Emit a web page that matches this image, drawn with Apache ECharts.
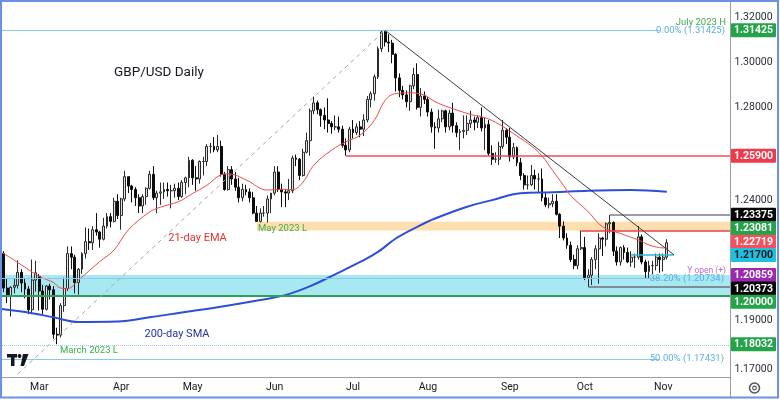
<!DOCTYPE html>
<html><head><meta charset="utf-8">
<script src="https://cdn.jsdelivr.net/npm/echarts@6/dist/echarts.min.js"></script>
<style>html,body{margin:0;padding:0;background:#fff}#c{width:780px;height:401px}</style>
</head><body><div id="c"></div>
<script>
// ---------- DATA ----------
const firstSlot = '2023-02-14';      // first weekday slot on the axis (empty)
const slotCount = 206;               // weekdays shown, incl. empty future slots
const monthNames = ['Jan','Feb','Mar','Apr','May','Jun','Jul','Aug','Sep','Oct','Nov','Dec'];
const yMin = 1.16711, yMax = 1.32705;
const tickValues = [1.32, 1.30, 1.28, 1.24, 1.19, 1.17];

// daily candles 2023-02-15 .. 2023-11-02, [open, high, low, close]
const candlesFeb = [
 [1.2175,1.2185,1.2015,1.2032],[1.2032,1.2070,1.1970,1.2000],[1.2000,1.2040,1.1915,1.2035],
 [1.2035,1.2070,1.2010,1.2043],[1.2043,1.2147,1.2030,1.2097],[1.2097,1.2110,1.2015,1.2053],[1.2053,1.2070,1.1990,1.2028],[1.2028,1.2040,1.1925,1.1943],
 [1.1943,1.2150,1.1925,1.2065],[1.2065,1.2145,1.2017,1.2095]];
const candlesMar = [
 [1.2080,1.2090,1.1940,1.2020],[1.2020,1.2045,1.1925,1.1945],[1.1945,1.2045,1.1940,1.2040],
 [1.2040,1.2050,1.1985,1.2025],[1.2025,1.2040,1.1825,1.1843],[1.1843,1.1870,1.1803,1.1840],[1.1840,1.1970,1.1830,1.1960],[1.1960,1.2075,1.1935,1.2030],
 [1.2030,1.2205,1.2020,1.2175],[1.2175,1.2205,1.2110,1.2160],[1.2160,1.2170,1.2010,1.2055],[1.2055,1.2115,1.2005,1.2110],[1.2110,1.2180,1.2090,1.2175],
 [1.2175,1.2285,1.2155,1.2225],[1.2225,1.2280,1.2190,1.2220],[1.2220,1.2290,1.2190,1.2275],[1.2275,1.2345,1.2250,1.2265],[1.2265,1.2270,1.2200,1.2235],
 [1.2235,1.2325,1.2230,1.2290],[1.2290,1.2345,1.2280,1.2330],[1.2330,1.2345,1.2285,1.2310],[1.2310,1.2410,1.2305,1.2395],[1.2395,1.2425,1.2320,1.2335]];
const candlesApr = [
 [1.2335,1.2410,1.2275,1.2405],[1.2405,1.2525,1.2395,1.2500],[1.2500,1.2500,1.2430,1.2460],[1.2460,1.2465,1.2390,1.2445],[1.2445,1.2455,1.2375,1.2410],
 [1.2410,1.2425,1.2345,1.2375],[1.2375,1.2425,1.2345,1.2415],[1.2415,1.2455,1.2380,1.2450],[1.2450,1.2525,1.2445,1.2510],[1.2510,1.2545,1.2400,1.2410],
 [1.2410,1.2440,1.2345,1.2430],[1.2430,1.2475,1.2380,1.2435],[1.2435,1.2475,1.2405,1.2445],[1.2445,1.2475,1.2415,1.2440],[1.2440,1.2465,1.2365,1.2440],
 [1.2440,1.2470,1.2410,1.2450],[1.2450,1.2475,1.2400,1.2415],[1.2415,1.2485,1.2410,1.2475],[1.2475,1.2500,1.2425,1.2495],[1.2495,1.2585,1.2455,1.2570]];
const candlesMay = [
 [1.2570,1.2575,1.2465,1.2495],[1.2495,1.2545,1.2440,1.2490],[1.2490,1.2570,1.2470,1.2565],[1.2565,1.2585,1.2505,1.2565],[1.2565,1.2640,1.2545,1.2630],
 [1.2630,1.2645,1.2600,1.2630],[1.2630,1.2670,1.2605,1.2615],[1.2615,1.2680,1.2605,1.2630],[1.2630,1.2655,1.2500,1.2510],[1.2510,1.2520,1.2440,1.2445],
 [1.2445,1.2545,1.2440,1.2530],[1.2530,1.2545,1.2465,1.2490],[1.2490,1.2520,1.2440,1.2455],[1.2455,1.2495,1.2390,1.2410],[1.2410,1.2470,1.2395,1.2445],
 [1.2445,1.2465,1.2420,1.2435],[1.2435,1.2450,1.2390,1.2410],[1.2410,1.2435,1.2340,1.2345],[1.2345,1.2375,1.2308,1.2310],[1.2310,1.2365,1.2305,1.2345],
 [1.2345,1.2375,1.2330,1.2345],[1.2345,1.2420,1.2305,1.2405],[1.2405,1.2430,1.2345,1.2430]];
const candlesJun = [
 [1.2430,1.2545,1.2420,1.2520],[1.2520,1.2545,1.2435,1.2445],
 [1.2445,1.2470,1.2370,1.2435],[1.2435,1.2445,1.2370,1.2430],[1.2430,1.2490,1.2400,1.2440],[1.2440,1.2590,1.2430,1.2580],[1.2580,1.2595,1.2545,1.2575],
 [1.2575,1.2580,1.2485,1.2505],[1.2505,1.2620,1.2500,1.2605],[1.2605,1.2690,1.2600,1.2655],[1.2655,1.2795,1.2590,1.2785],[1.2785,1.2848,1.2770,1.2820],
 [1.2820,1.2830,1.2770,1.2790],[1.2790,1.2795,1.2715,1.2765],[1.2765,1.2800,1.2705,1.2745],[1.2745,1.2840,1.2690,1.2730],[1.2730,1.2740,1.2685,1.2715],
 [1.2715,1.2765,1.2700,1.2715],[1.2715,1.2760,1.2690,1.2705],[1.2705,1.2720,1.2625,1.2635],[1.2635,1.2665,1.2590,1.2615],[1.2615,1.2715,1.2605,1.2705]];
const candlesJul = [
 [1.2705,1.2745,1.2665,1.2690],[1.2690,1.2730,1.2680,1.2715],[1.2715,1.2740,1.2670,1.2705],[1.2705,1.2770,1.2675,1.2745],[1.2745,1.2850,1.2735,1.2835],
 [1.2835,1.2870,1.2800,1.2860],[1.2860,1.2945,1.2830,1.2935],[1.2935,1.3070,1.2925,1.3060],[1.3060,1.3140,1.3045,1.3135],[1.3135,1.31425,1.3070,1.3090],
 [1.3090,1.3125,1.3045,1.3085],[1.3085,1.3100,1.2995,1.3035],[1.3035,1.3040,1.2870,1.2930],[1.2930,1.2950,1.2845,1.2875],[1.2875,1.2895,1.2835,1.2855],
 [1.2855,1.2875,1.2800,1.2825],[1.2825,1.2900,1.2785,1.2895],[1.2895,1.2975,1.2880,1.2945],[1.2945,1.2995,1.2790,1.2800],[1.2800,1.2885,1.2760,1.2850],
 [1.2850,1.2870,1.2815,1.2835]];
const candlesAug = [
 [1.2835,1.2845,1.2760,1.2780],[1.2780,1.2795,1.2690,1.2715],[1.2715,1.2735,1.2620,1.2710],[1.2710,1.2790,1.2690,1.2750],
 [1.2750,1.2790,1.2735,1.2785],[1.2785,1.2790,1.2690,1.2715],[1.2715,1.2790,1.2700,1.2775],[1.2775,1.2820,1.2690,1.2720],[1.2720,1.2735,1.2670,1.2690],
 [1.2690,1.2705,1.2615,1.2695],[1.2695,1.2765,1.2665,1.2700],[1.2700,1.2765,1.2680,1.2730],[1.2730,1.2785,1.2710,1.2745],[1.2745,1.2760,1.2700,1.2735],
 [1.2735,1.2765,1.2710,1.2755],[1.2755,1.2800,1.2695,1.2710],[1.2710,1.2755,1.2615,1.2725],[1.2725,1.2745,1.2590,1.2600],[1.2600,1.2635,1.2550,1.2575],
 [1.2575,1.2605,1.2560,1.2575],[1.2575,1.2650,1.2550,1.2630],[1.2630,1.2745,1.2620,1.2700],[1.2700,1.2710,1.2640,1.2670]];
const candlesSep = [
 [1.2670,1.2710,1.2565,1.2585],
 [1.2585,1.2645,1.2575,1.2625],[1.2625,1.2630,1.2545,1.2560],[1.2560,1.2580,1.2485,1.2505],[1.2505,1.2515,1.2445,1.2465],[1.2465,1.2505,1.2445,1.2465],
 [1.2465,1.2550,1.2460,1.2505],[1.2505,1.2530,1.2445,1.2490],[1.2490,1.2515,1.2435,1.2490],[1.2490,1.2535,1.2395,1.2410],[1.2410,1.2435,1.2370,1.2380],
 [1.2380,1.2410,1.2365,1.2385],[1.2385,1.2425,1.2370,1.2395],[1.2395,1.2425,1.2335,1.2340],[1.2340,1.2345,1.2240,1.2290],[1.2290,1.2310,1.2230,1.2240],
 [1.2240,1.2260,1.2195,1.2210],[1.2210,1.2225,1.2140,1.2150],[1.2150,1.2170,1.2110,1.2125],[1.2125,1.2210,1.2110,1.2195],[1.2195,1.2272,1.2190,1.2200]];
const candlesOct = [
 [1.2200,1.2245,1.2065,1.2075],[1.2075,1.2110,1.2037,1.2085],[1.2085,1.2160,1.2045,1.2150],[1.2150,1.2210,1.2110,1.2195],[1.2195,1.2260,1.2050,1.2240],
 [1.2240,1.2245,1.2165,1.2235],[1.2235,1.2305,1.2205,1.2300],[1.2300,1.23375,1.2260,1.2305],[1.2305,1.2310,1.2165,1.2185],[1.2185,1.2205,1.2125,1.2140],
 [1.2140,1.2205,1.2125,1.2200],[1.2200,1.2210,1.2150,1.2180],[1.2180,1.2200,1.2135,1.2140],[1.2140,1.2185,1.2120,1.2160],[1.2160,1.2175,1.2115,1.2160],
 [1.2160,1.2290,1.2150,1.2245],[1.2245,1.2255,1.2130,1.2140],[1.2140,1.2150,1.2070,1.2100],[1.2100,1.2145,1.2070,1.2125],[1.2125,1.2145,1.2090,1.2125],
 [1.2125,1.2175,1.2105,1.2160],[1.2160,1.2175,1.2095,1.2150]];
const candlesNov = [[1.2150,1.2175,1.2100,1.2160],[1.2160,1.2235,1.2150,1.2220]];

// 21-day EMA: [slot index, price]
const emaPoints = [[0,1.2180],[1,1.2175],[6,1.2128],[11,1.2080],[15,1.2055],[17,1.2032],[19,1.2030],[22,1.2065],[28,1.2142],[32,1.2190],
 [36,1.2274],[42,1.2350],[45,1.2370],[50,1.2393],[54,1.2428],[58,1.2463],[62,1.2508],[64,1.2512],[69,1.2486],[75,1.2443],[79,1.2446],
 [82,1.2445],[85,1.2477],[88,1.2549],[93,1.2614],[97,1.2650],[101,1.2679],[105,1.2744],[108,1.2831],[111,1.2861],[115,1.2864],
 [119,1.2854],[122,1.2825],[126,1.2800],[132,1.2769],[136,1.2755],[140,1.2726],[145,1.2675],[149,1.2632],[152,1.2589],[155,1.2526],
 [158,1.2463],[160,1.2420],[165,1.2350],[169,1.2287],[174,1.2259],[179,1.2232],[182,1.2211],[185,1.2200],[187,1.2198]];
// 200-day SMA: [slot index, price]
const smaPoints = [[0,1.1947],[9,1.1929],[15,1.1912],[22,1.1893],[33,1.1895],[42,1.1912],[51,1.1932],[61,1.1953],[73,1.1983],
 [80,1.2003],[87,1.2040],[94,1.2089],[101,1.2140],[106,1.2182],[111,1.2238],[117,1.2287],[122,1.2322],[131,1.2372],[138,1.2400],
 [146,1.2429],[155,1.2433],[165,1.2440],[177,1.2443],[187,1.2436]];

// drawn levels
const fibZero = 1.31425, fib382 = 1.20734, fib50 = 1.17431;
const supportZone = [1.20000, 1.20859];
const mayZone = [1.22719, 1.23081];
const mayZoneStart = '2023-05-25';
const level1259 = [1.25900, '2023-06-29'];
const level12272 = [1.22719, '2023-09-29'];
const level12338 = [1.23375, '2023-10-11'];
const level12037 = [1.20373, '2023-10-03'];
const level1217 = [1.21700, '2023-10-19', '2023-11-06'];
const trendLine = [['2023-07-14', 1.31425], ['2023-11-06', 1.21700]];
const fibDiagonal = [['2023-02-21', 1.1683], ['2023-07-14', 1.31425]];
const marchLow = 1.18032;
const tagValues = [1.31425, 1.25900, 1.23375, 1.23081, 1.22719, 1.21700, 1.20859, 1.20373, 1.20000, 1.18032];

// ---------- BUILD ----------
const cats = [];
{ const p = firstSlot.split('-').map(Number); const d = new Date(Date.UTC(p[0], p[1]-1, p[2]));
  while (cats.length < slotCount) { const wd = d.getUTCDay(); if (wd !== 0 && wd !== 6) cats.push(d.toISOString().slice(0,10)); d.setUTCDate(d.getUTCDate()+1); } }
const allCandles = [].concat(candlesFeb, candlesMar, candlesApr, candlesMay, candlesJun, candlesJul, candlesAug, candlesSep, candlesOct, candlesNov);
const candleData = cats.map(() => '-');
allCandles.forEach((r, i) => { candleData[i+1] = [r[0], r[3], r[2], r[1]]; });
const lastCat = cats[cats.length-1];
const fibEnd = cats[185];

const chart = echarts.init(document.getElementById('c'), null, {renderer: 'canvas'});
const ls = (color, width, type) => ({color, width, type: type || 'solid'});
const seg = (a, b, style) => [{coord: a, lineStyle: style}, {coord: b}];

const option = {
  animation: false,
  backgroundColor: '#ffffff',
  grid: {left: 0, right: 49, top: 2, bottom: 24},
  xAxis: {
    type: 'category', data: cats, boundaryGap: false,
    axisLine: {lineStyle: {color: '#9a9da5'}}, axisTick: {show: false}, splitLine: {show: false},
    axisLabel: {
      interval: (i) => i > 0 && cats[i].slice(5,7) !== cats[i-1].slice(5,7),
      formatter: (v) => monthNames[+v.slice(5,7) - 1],
      color: '#131722', fontSize: 10.5, fontFamily: 'Roboto', margin: 5
    }
  },
  yAxis: {
    type: 'log', logBase: 10, min: yMin, max: yMax, position: 'right',
    axisLine: {show: false}, axisTick: {show: false}, axisLabel: {show: false}, splitLine: {show: false}
  },
  series: [
    {
      type: 'candlestick', name: 'GBP/USD', data: candleData, barWidth: 2.4, z: 2,
      itemStyle: {color: '#e2e2e2', color0: '#0c0c0c', borderColor: '#2a2a2a', borderColor0: '#0c0c0c', borderWidth: 1},
      markArea: {
        silent: true,
        data: [
          [{yAxis: supportZone[0], itemStyle: {color: 'rgba(0,188,212,0.34)'}}, {yAxis: supportZone[1]}],
          [{xAxis: mayZoneStart, yAxis: mayZone[0], itemStyle: {color: 'rgba(255,152,0,0.32)'}}, {yAxis: mayZone[1]}]
        ]
      },
      markLine: {
        silent: true, symbol: ['none','none'], label: {show: false}, animation: false,
        data: [
          seg([cats[0], fibZero], [fibEnd, fibZero], ls('#86c8ee', 1)),
          seg([cats[0], fib382], [fibEnd, fib382], ls('#86c8ee', 1)),
          seg([cats[0], fib50], [fibEnd, fib50], ls('#86c8ee', 1)),
          {yAxis: marchLow, lineStyle: ls('#8fd0d4', 1, 'dotted')},
          {yAxis: supportZone[0], lineStyle: ls('#2f9e58', 2)},
          seg([level1259[1], level1259[0]], [lastCat, level1259[0]], ls('rgba(235,70,80,0.7)', 2)),
          seg([level12272[1], level12272[0]], [lastCat, level12272[0]], ls('#ef3b4a', 1.5)),
          seg([level12338[1], level12338[0]], [lastCat, level12338[0]], ls('#7d7f86', 1.5)),
          seg([level12037[1], level12037[0]], [lastCat, level12037[0]], ls('#6f7279', 1.5)),
          seg([level1217[1], level1217[0]], [level1217[2], level1217[0]], ls('#2bb7d6', 1.5)),
          seg(trendLine[0], trendLine[1], ls('#3b3b3b', 1)),
          seg(fibDiagonal[0], fibDiagonal[1], ls('#a4a7ae', 1, [4,4]))
        ]
      }
    },
    {
      type: 'line', name: '200-day SMA', data: smaPoints.map(p => [cats[p[0]], p[1]]),
      smooth: 0.4, symbol: 'none', z: 4, lineStyle: {color: '#2c4fd6', width: 2}
    },
    {
      type: 'line', name: '21-day EMA', data: emaPoints.map(p => [cats[p[0]], p[1]]),
      smooth: 0.4, symbol: 'none', z: 4, lineStyle: {color: '#ec4a44', width: 1}
    }
  ]
};
chart.setOption(option);

// ---------- right price scale, tags and annotations ----------
const yPx = (v) => chart.convertToPixel({yAxisIndex: 0}, v);
const tagStyle = {
  1.31425: ['#22a447', '#ffffff'], 1.259: ['#f2394a', '#ffffff'], 1.23375: ['#050505', '#ffffff'],
  1.23081: ['#22a447', '#ffffff'], 1.22719: ['#f5505e', '#ffffff'], 1.217: ['#1ec0dc', '#131722'],
  1.20859: ['#9c27b0', '#ffffff'], 1.20373: ['#050505', '#ffffff'], 1.2: ['#22a447', '#ffffff'], 1.18032: ['#22a447', '#ffffff']
};
const g = [];
const txt = (text, x, y, opt) => g.push({type: 'text', silent: true, z: 50, style: Object.assign({
  text, x, y, fill: '#131722', fontSize: 10, fontFamily: 'Roboto', textAlign: 'center', textVerticalAlign: 'middle', align: 'center', verticalAlign: 'middle'
}, opt || {})});

tickValues.forEach(v => txt(v.toFixed(5), 753.5, yPx(v), {fill: '#2a2e39', fontSize: 10.5}));
const tags = tagValues.map(v => ({v, y: yPx(v)})).sort((a, b) => a.y - b.y);
for (let i = 1; i < tags.length; i++) if (tags[i].y < tags[i-1].y + 13.4) tags[i].y = tags[i-1].y + 13.4;
tags.forEach(t => {
  const st = tagStyle[t.v];
  g.push({type: 'rect', silent: true, z: 49, shape: {x: 731, y: t.y - 7, width: 45, height: 14, r: 1}, style: {fill: st[0]}});
  txt(t.v.toFixed(5), 753.5, t.y + 0.5, {fill: st[1], fontWeight: 'bold', fontSize: 10.5});
});

txt('GBP/USD Daily', 159, 73, {fontSize: 13.5, fill: '#131722'});
txt('21-day EMA', 197.5, 238.5, {fontSize: 11, fill: '#e5342f'});
txt('200-day SMA', 177, 334, {fontSize: 11, fill: '#2233a8'});
txt('March 2023 L', 60, 351, {fontSize: 9.5, fill: '#3cae4a', textAlign: 'left', align: 'left'});
txt('May 2023 L', 258, 228.5, {fontSize: 9.5, fill: '#3cae4a', textAlign: 'left', align: 'left'});
txt('July 2023 H', 726, 22.5, {fontSize: 9.5, fill: '#3cae4a', textAlign: 'right', align: 'right'});
txt('0.00% (1.31425)', 725, 30.5, {fontSize: 9.5, fill: '#5aaee6', textAlign: 'right', align: 'right'});
txt('38.20% (1.20734)', 724, 278.5, {fontSize: 9.5, fill: '#5aaee6', textAlign: 'right', align: 'right'});
txt('50.00% (1.17431)', 724, 359, {fontSize: 9.5, fill: '#5aaee6', textAlign: 'right', align: 'right'});
txt('Y open (+)', 726, 271, {fontSize: 8.5, fill: '#c06ad4', textAlign: 'right', align: 'right'});

// separator, frame, logo, gear
g.push({type: 'line', silent: true, z: 40, shape: {x1: 730.5, y1: 0, x2: 730.5, y2: 398}, style: {stroke: '#9a9da5', lineWidth: 1}});
g.push({type: 'rect', silent: true, z: 60, shape: {x: 1, y: 1, width: 777, height: 396.5}, style: {fill: 'none', stroke: '#6a92e4', lineWidth: 2}});
g.push({type: 'polygon', silent: true, z: 50, shape: {points: [[7,354],[17,354],[17,357.5],[14.5,357.5],[14.5,366],[11,366],[11,357.5],[7,357.5]]}, style: {fill: '#131722'}});
g.push({type: 'circle', silent: true, z: 50, shape: {cx: 19.5, cy: 356, r: 2}, style: {fill: '#131722'}});
g.push({type: 'polygon', silent: true, z: 50, shape: {points: [[23,354],[28.5,354],[24,366],[20.5,366]]}, style: {fill: '#131722'}});
g.push({type: 'circle', silent: true, z: 50, shape: {cx: 754.5, cy: 388, r: 5}, style: {fill: 'none', stroke: '#50535e', lineWidth: 1.5}});
g.push({type: 'circle', silent: true, z: 50, shape: {cx: 754.5, cy: 388, r: 1.8}, style: {fill: 'none', stroke: '#50535e', lineWidth: 1.2}});

chart.setOption({graphic: {elements: g}});
</script></body></html>
